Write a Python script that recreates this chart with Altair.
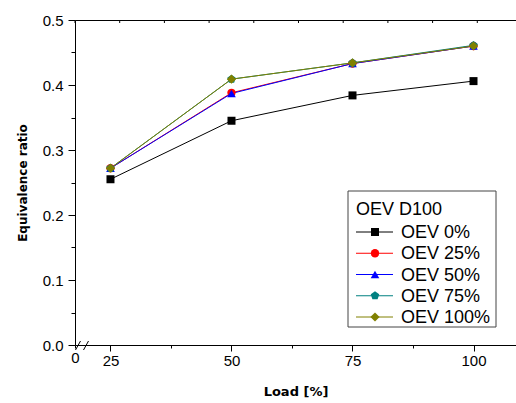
import altair as alt
import pandas as pd

loads = [25, 50, 75, 100]
series = ["OEV 0%", "OEV 25%", "OEV 50%", "OEV 75%", "OEV 100%"]
oev0 = [0.255, 0.345, 0.384, 0.406]
oev25 = [0.272, 0.388, 0.433, 0.460]
oev50 = [0.272, 0.387, 0.433, 0.460]
oev75 = [0.272, 0.409, 0.434, 0.461]
oev100 = [0.272, 0.409, 0.434, 0.460]
colors = ["#000000", "#ff0000", "#0000ff", "#008080", "#808000"]
pentagon = "M0,-1L0.951,-0.309L0.588,0.809L-0.588,0.809L-0.951,-0.309Z"
shapes = ["square", "circle", "triangle-up", pentagon, "diamond"]
sizes = [64, 85, 130, 100, 220]
legend_title = "OEV D100"
top_ticks = [0, 10, 20, 30, 40, 50, 60, 70, 80, 90]

rows = []
for name, vals in zip(series, [oev0, oev25, oev50, oev75, oev100]):
    for l, v in zip(loads, vals):
        rows.append({"load": l, "ratio": v, "series": name})
df = pd.DataFrame(rows)

W, H = 441, 325
XDOM = [17.67, 108.78]

color_scale = alt.Scale(domain=series, range=colors)
shape_scale = alt.Scale(domain=series, range=shapes)
size_scale = alt.Scale(domain=series, range=sizes)

xticks = [XDOM[0], 25, 37.5, 50, 62.5, 75, 87.5, 100]
yticks = [0, 0.05, 0.1, 0.15, 0.2, 0.25, 0.3, 0.35, 0.4, 0.45, 0.5]

x_enc = alt.X("load:Q", scale=alt.Scale(domain=XDOM, nice=False, zero=False),
              axis=alt.Axis(values=xticks, title="Load [%]", grid=False,
                            labelExpr="datum.value < 20 ? '0' : (datum.value % 25 == 0 ? format(datum.value, 'd') : '')",
                            tickSize={"condition": {"test": "datum.value % 25 != 0", "value": 3}, "value": 6},
                            labelOverlap=False, labelFlush=False, labelPadding=2,
                            titleFont="DejaVu Sans", titleFontWeight="bold", titleFontSize=13,
                            titlePadding=17))
y_enc = alt.Y("ratio:Q", scale=alt.Scale(domain=[0, 0.5], nice=False),
              axis=alt.Axis(values=yticks, title="Equivalence ratio", grid=False,
                            labelExpr="round(datum.value*100) % 10 == 0 ? format(datum.value, '.1f') : ''",
                            tickSize={"condition": {"test": "round(datum.value*100) % 10 != 0", "value": 4}, "value": 7},
                            labelOverlap=False, labelFlush=False, labelPadding=5,
                            titleFont="DejaVu Sans", titleFontWeight="bold", titleFontSize=12,
                            titlePadding=13))

base = alt.Chart(df)
lines = base.mark_line(strokeWidth=1).encode(
    x=x_enc, y=y_enc,
    color=alt.Color("series:N", scale=color_scale, legend=None),
    detail="series:N",
)
points = base.mark_point(filled=True, opacity=1).encode(
    x=x_enc, y=y_enc,
    color=alt.Color("series:N", scale=color_scale, legend=None),
    shape=alt.Shape("series:N", scale=shape_scale, legend=None),
    size=alt.Size("series:N", scale=size_scale, legend=None),
)
data_layer = alt.layer(lines, points)

# legend
leg_df = pd.DataFrame({"series": series, "idx": list(range(len(series)))})
ly = alt.Y("idx:Q", scale=alt.Scale(domain=[0, len(series) - 1], range=[212, 297], nice=False, zero=False), axis=None)
box = alt.Chart(pd.DataFrame({"a": [0]})).mark_rect(fill="white", stroke="#444444", strokeWidth=1).encode(
    x=alt.value(273), x2=alt.value(421), y=alt.value(171), y2=alt.value(307))
ltitle = alt.Chart(pd.DataFrame({"t": [legend_title]})).mark_text(
    align="left", baseline="alphabetic", font="Liberation Sans", fontSize=18, color="black").encode(
    x=alt.value(281), y=alt.value(195), text="t:N")
lrules = alt.Chart(leg_df).mark_rule(strokeWidth=1).encode(
    x=alt.value(281), x2=alt.value(318), y=ly,
    color=alt.Color("series:N", scale=color_scale, legend=None))
lpoints = alt.Chart(leg_df).mark_point(filled=True, opacity=1).encode(
    x=alt.value(300), y=ly,
    color=alt.Color("series:N", scale=color_scale, legend=None),
    shape=alt.Shape("series:N", scale=shape_scale, legend=None),
    size=alt.Size("series:N", scale=size_scale, legend=None))
ltext = alt.Chart(leg_df).mark_text(align="left", baseline="middle", font="Liberation Sans",
                                    fontSize=18, color="black", dy=1).encode(
    x=alt.value(326), y=ly, text="series:N")
legend_layer = alt.layer(box, ltitle, lrules, lpoints, ltext)

# top axis line with inward ticks
top_df = pd.DataFrame({"t": top_ticks})
top_rules = alt.Chart(top_df).mark_rule(color="black", strokeWidth=1).encode(
    x=alt.X("t:Q", scale=alt.Scale(domain=[0, 98.66], nice=False),
            axis=alt.Axis(orient="top", labels=False, ticks=False, title=None, grid=False, domain=True)),
    y=alt.value(0), y2=alt.value(3))

# axis break marks
brk = pd.DataFrame({"a": [0]})
break1 = alt.Chart(brk).mark_rule(color="black", strokeWidth=1).encode(
    x=alt.value(0.5), x2=alt.value(5.5), y=alt.value(330), y2=alt.value(321))
break2 = alt.Chart(brk).mark_rule(color="black", strokeWidth=1).encode(
    x=alt.value(8.5), x2=alt.value(13.5), y=alt.value(330), y2=alt.value(321))

chart = alt.layer(data_layer, top_rules, legend_layer, break1, break2).resolve_scale(
    x="independent", y="independent"
).properties(
    width=W, height=H,
    autosize=alt.AutoSizeParams(type="none"),
    padding={"left": 75, "top": 20, "right": 0, "bottom": 58},
    background="white",
).configure_view(stroke=None).configure_axis(
    domainColor="black", tickColor="black", labelColor="black", titleColor="black",
    labelFont="Liberation Sans", labelFontSize=15, domainWidth=1, tickWidth=1,
)

chart.save("out.html", embed_options={"renderer": "svg", "actions": False})
